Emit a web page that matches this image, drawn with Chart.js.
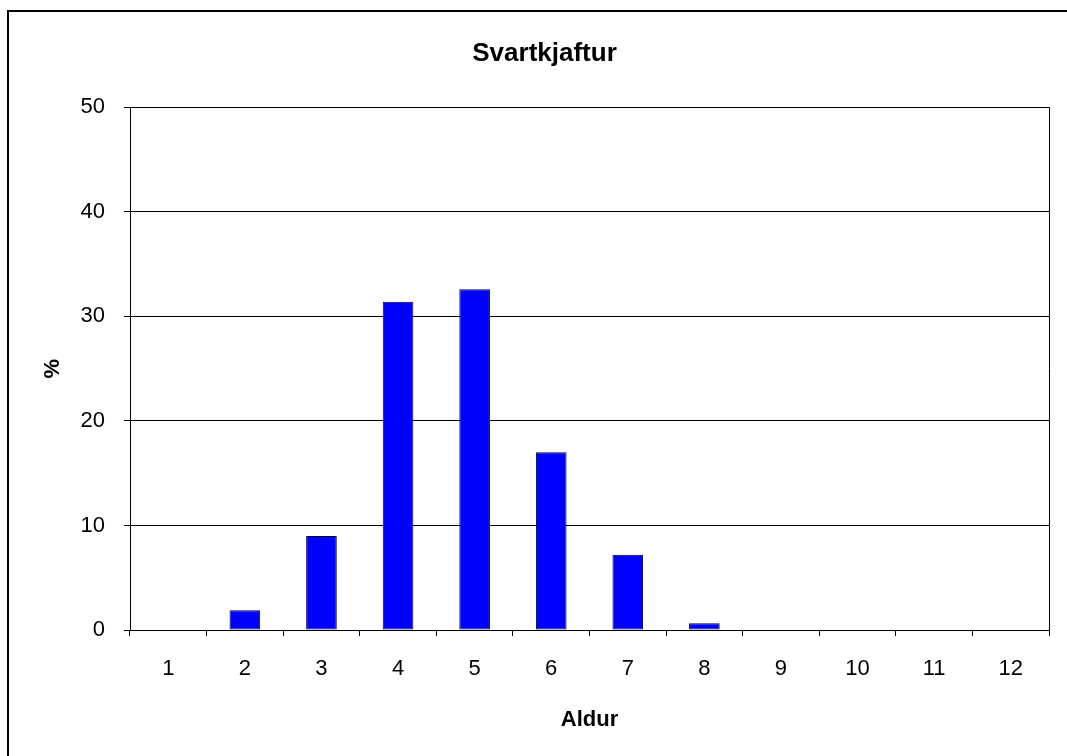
<!DOCTYPE html>
<html>
<head>
<meta charset="utf-8">
<script src="https://cdn.jsdelivr.net/npm/chart.js@4.4.0/dist/chart.umd.min.js"></script>
<style>
    html, body { margin: 0; padding: 0; background: #fff; overflow: hidden; }
    #frame {
        position: absolute; left: 7px; top: 10px;
        border-left: 2px solid #000; border-top: 2px solid #000;
        width: 1071px; height: 750px;
    }
    canvas { display: block; }
</style>
</head>
<body>
<div id="frame"><canvas id="ageChart" width="1071" height="750"></canvas></div>
<script>
// Aldursdreifing svartkjafts
const titleText = 'Svartkjaftur';
const xTitle = 'Aldur';
const yTitle = '%';
const ages = ['1', '2', '3', '4', '5', '6', '7', '8', '9', '10', '11', '12'];
const percent = [0, 1.9, 9.0, 31.4, 32.6, 17.0, 7.2, 0.65, 0, 0, 0, 0];

const fontFamily = '"Liberation Sans", Arial, sans-serif';
Chart.defaults.color = '#000';
Chart.defaults.font.family = fontFamily;

// rammi hægra megin við teiknisvæðið
const plotBorder = {
    id: 'plotBorder',
    afterDraw(chart) {
        const a = chart.chartArea;
        const c = chart.ctx;
        c.save();
        c.strokeStyle = '#000';
        c.lineWidth = 1;
        c.beginPath();
        c.moveTo(a.right + 0.5, a.top);
        c.lineTo(a.right + 0.5, a.bottom);
        c.stroke();
        c.restore();
    }
};

new Chart(document.getElementById('ageChart'), {
    type: 'bar',
    data: {
        labels: ages,
        datasets: [{
            label: titleText,
            data: percent,
            backgroundColor: '#0000FF',
            borderColor: '#000033',
            borderWidth: 1,
            borderSkipped: false,
            categoryPercentage: 1.0,
            barPercentage: 0.4
        }]
    },
    options: {
        responsive: false,
        animation: false,
        devicePixelRatio: 1,
        layout: { padding: 0 },
        plugins: {
            legend: { display: false },
            tooltip: { enabled: false },
            title: {
                display: true,
                text: titleText,
                color: '#000',
                font: { size: 26, weight: 'bold', family: fontFamily },
                padding: { top: 26, bottom: 38 }
            }
        },
        scales: {
            x: {
                grid: { display: true, drawOnChartArea: false, drawTicks: true, tickLength: 6, color: '#000', offset: true },
                border: { display: true, color: '#000', width: 1 },
                ticks: { font: { size: 22 }, color: '#000', padding: 20, maxRotation: 0 },
                title: { display: true, text: xTitle, font: { size: 22, weight: 'bold' }, color: '#000', padding: { top: 0, bottom: 29 } },
                afterFit(scale) { scale.height = 132; }
            },
            y: {
                min: 0,
                max: 50,
                ticks: { stepSize: 10, font: { size: 22 }, color: '#000', padding: 19 },
                grid: { color: '#000', lineWidth: 1, drawTicks: true, tickLength: 6 },
                border: { display: true, color: '#000', width: 1 },
                title: { display: true, text: yTitle, font: { size: 22, weight: 'bold' }, color: '#000', padding: { top: 31, bottom: 0 } },
                afterFit(scale) { scale.width = 121; }
            },
            // tómur ás hægra megin, heldur bili milli teiknisvæðis og kants
            yRight: {
                type: 'linear',
                position: 'right',
                display: true,
                grid: { display: false, drawTicks: false },
                border: { display: false },
                ticks: { display: false },
                afterFit(scale) { scale.width = 31; }
            }
        }
    },
    plugins: [plotBorder]
});
</script>
</body>
</html>
